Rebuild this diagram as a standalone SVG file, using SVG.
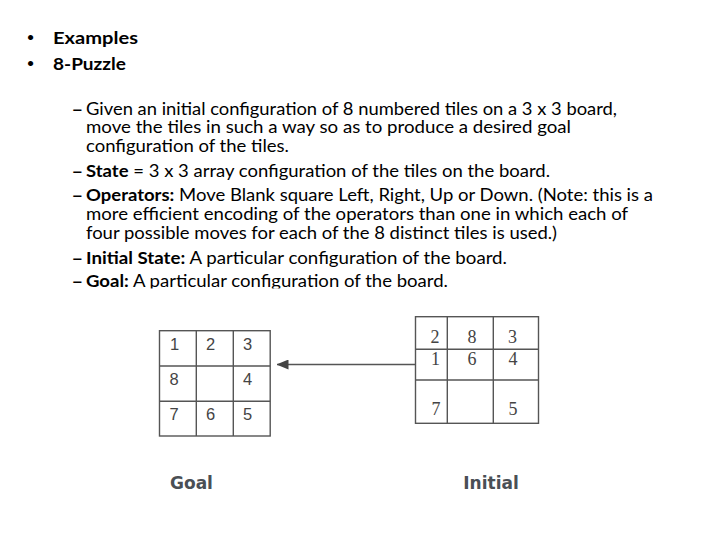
<svg xmlns="http://www.w3.org/2000/svg" width="720" height="540" viewBox="0 0 720 540">
<defs>
<style>
.t{font-family:Lato,"Open Sans","Liberation Sans",sans-serif;font-size:17px;fill:#000}
.b{font-weight:bold}
.bu{font-family:Lato,"Liberation Sans",sans-serif;font-size:14px;fill:#000}
.g{fill:none;stroke:#555;stroke-width:1.4}
.gd{font-family:"Liberation Sans",Arial,sans-serif;font-size:16.5px;fill:#444}
.id{font-family:"Liberation Serif","Times New Roman",serif;font-size:18px;fill:#444}
.lbl{font-family:"DejaVu Sans",Verdana,sans-serif;font-weight:bold;font-size:17px;fill:#4a4f55}
</style>
<clipPath id="cut"><rect x="0" y="0" width="720" height="288.5"/></clipPath>
<marker id="ah" viewBox="0 0 12 10" refX="11.5" refY="5" markerWidth="12" markerHeight="10" markerUnits="userSpaceOnUse" orient="auto">
<path d="M0,0 L12,5 L0,10 Z" fill="#444"/>
</marker>
</defs>
<rect width="720" height="540" fill="#fff"/>

<g id="text">
<text class="bu" x="26.5" y="42">•</text>
<text class="t b" x="53" y="44" textLength="85" lengthAdjust="spacingAndGlyphs">Examples</text>
<text class="bu" x="26.5" y="68">•</text>
<text class="t b" x="53" y="70" textLength="73" lengthAdjust="spacingAndGlyphs">8-Puzzle</text>

<text class="t b" x="71.5" y="114.5" textLength="11.7" lengthAdjust="spacingAndGlyphs">–</text>
<text class="t" x="86" y="114.5" textLength="531" lengthAdjust="spacingAndGlyphs">Given an initial configuration of 8 numbered tiles on a 3 x 3 board,</text>
<text class="t" x="86" y="133" textLength="485" lengthAdjust="spacingAndGlyphs">move the tiles in such a way so as to produce a desired goal</text>
<text class="t" x="86" y="151.5" textLength="203" lengthAdjust="spacingAndGlyphs">configuration of the tiles.</text>

<text class="t b" x="71.5" y="177" textLength="11.7" lengthAdjust="spacingAndGlyphs">–</text>
<text class="t" x="86" y="177" textLength="464" lengthAdjust="spacingAndGlyphs"><tspan class="b">State</tspan> = 3 x 3 array configuration of the tiles on the board.</text>

<text class="t b" x="71.5" y="200.5" textLength="11.7" lengthAdjust="spacingAndGlyphs">–</text>
<text class="t" x="86" y="200.5" textLength="567" lengthAdjust="spacingAndGlyphs"><tspan class="b">Operators:</tspan> Move Blank square Left, Right, Up or Down. (Note: this is a</text>
<text class="t" x="86" y="219.5" textLength="542" lengthAdjust="spacingAndGlyphs">more efficient encoding of the operators than one in which each of</text>
<text class="t" x="86" y="238.5" textLength="471" lengthAdjust="spacingAndGlyphs">four possible moves for each of the 8 distinct tiles is used.)</text>

<text class="t b" x="71.5" y="263.5" textLength="11.7" lengthAdjust="spacingAndGlyphs">–</text>
<text class="t" x="86" y="263.5" textLength="421" lengthAdjust="spacingAndGlyphs"><tspan class="b">Initial State:</tspan> A particular configuration of the board.</text>

<text class="t b" x="71.5" y="287" textLength="11.7" lengthAdjust="spacingAndGlyphs">–</text>
<text class="t" x="86" y="287" textLength="362" lengthAdjust="spacingAndGlyphs" clip-path="url(#cut)"><tspan class="b">Goal:</tspan> A particular configuration of the board.</text>
</g>

<g id="goal">
<rect class="g" x="159.5" y="330.7" width="110.7" height="105.3"/>
<line class="g" x1="196.3" y1="330.7" x2="196.3" y2="436"/>
<line class="g" x1="233.3" y1="330.7" x2="233.3" y2="436"/>
<line class="g" x1="159.5" y1="366" x2="270.2" y2="366"/>
<line class="g" x1="159.5" y1="401.2" x2="270.2" y2="401.2"/>
<text class="gd" x="170" y="350">1</text>
<text class="gd" x="206" y="350">2</text>
<text class="gd" x="243" y="350">3</text>
<text class="gd" x="169.5" y="385">8</text>
<text class="gd" x="243" y="385">4</text>
<text class="gd" x="169.5" y="420">7</text>
<text class="gd" x="206" y="420">6</text>
<text class="gd" x="243" y="420">5</text>
<text class="lbl" x="170" y="488.5">Goal</text>
</g>

<g id="initial">
<rect class="g" x="415.5" y="316.7" width="123" height="106.6"/>
<line class="g" x1="447.3" y1="316.7" x2="447.3" y2="423.3"/>
<line class="g" x1="493.3" y1="316.7" x2="493.3" y2="423.3"/>
<line class="g" x1="415.5" y1="349.3" x2="538.5" y2="349.3"/>
<line class="g" x1="415.5" y1="380" x2="538.5" y2="380"/>
<g text-anchor="middle">
<text class="id" x="435" y="342.7">2</text>
<text class="id" x="472" y="342.7">8</text>
<text class="id" x="512.5" y="342.7">3</text>
<text class="id" x="435.5" y="365">1</text>
<text class="id" x="472" y="365">6</text>
<text class="id" x="513" y="365">4</text>
<text class="id" x="436" y="415">7</text>
<text class="id" x="513" y="415">5</text>
</g>
<text class="lbl" x="463.3" y="488.5">Initial</text>
</g>

<g id="connectors">
<line x1="415.5" y1="364.5" x2="277" y2="364.5" stroke="#555" stroke-width="1.3" marker-end="url(#ah)"/>
</g>
</svg>
